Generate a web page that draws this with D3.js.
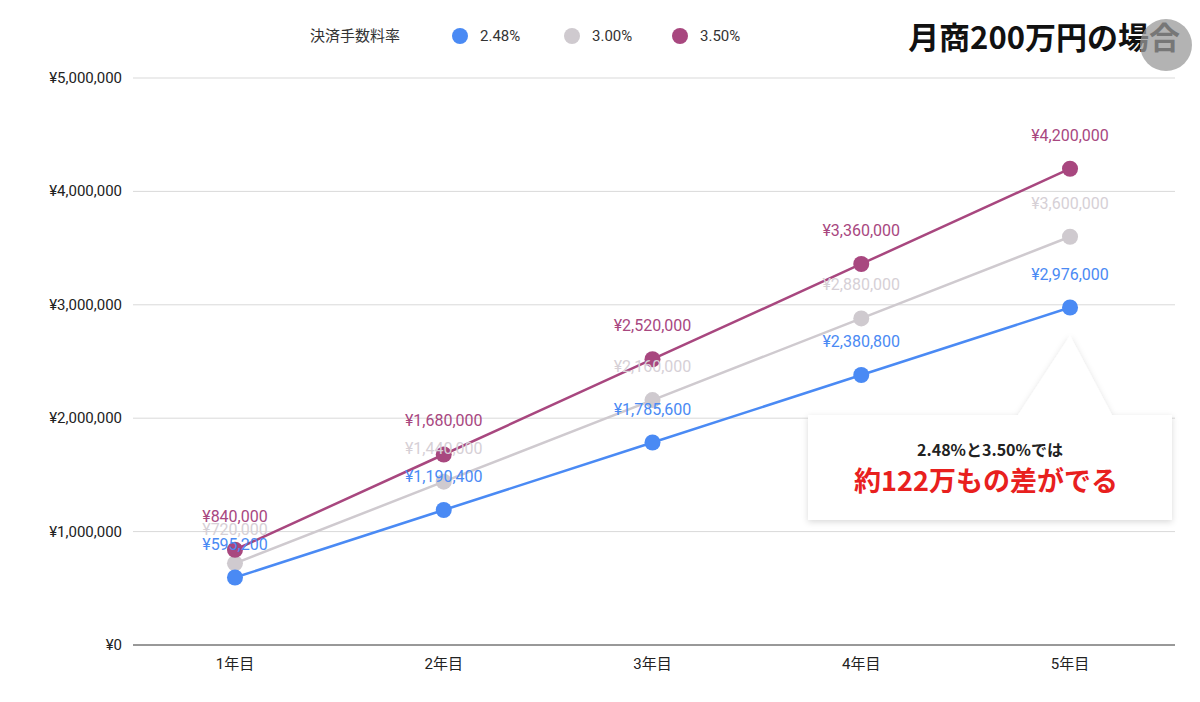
<!DOCTYPE html>
<html><head><meta charset="utf-8">
<script src="https://cdn.jsdelivr.net/npm/d3@7"></script>
<style>body{margin:0;background:#fff;font-family:Roboto,"Noto Sans CJK JP",sans-serif}</style>
</head><body><div id="chart"></div>
<script>
var years = ["1年目", "2年目", "3年目", "4年目", "5年目"];
var rates = ["2.48%", "3.00%", "3.50%"];
var fee248 = [595200, 1190400, 1785600, 2380800, 2976000];
var fee300 = [720000, 1440000, 2160000, 2880000, 3600000];
var fee350 = [840000, 1680000, 2520000, 3360000, 4200000];
var yTicks = [0, 1000000, 2000000, 3000000, 4000000, 5000000];

var colors = ["#4a8af4", "#cfcacf", "#a8477f"];
var labelColors = ["#4a8af4", "#d6d0d6", "#a8477f"];
var series = [fee248, fee300, fee350];

var svg = d3.select("#chart").append("svg").attr("width", 1200).attr("height", 702);

var x = d3.scaleBand().domain(years).range([130.6, 1174.4]);
var y = d3.scaleLinear().domain([0, 5000000]).range([645, 78]);
var yen = function(v){ return "¥" + d3.format(",")(v); };

// grid
svg.selectAll(".grid").data(yTicks).enter().append("line")
  .attr("x1", 133).attr("x2", 1175)
  .attr("y1", d => y(d)).attr("y2", d => y(d))
  .attr("stroke", d => d == 0 ? "#333" : "#d9d9d9").attr("stroke-width", 1);

svg.selectAll(".ytick").data(yTicks).enter().append("text")
  .attr("x", 122).attr("y", d => y(d) + 5)
  .attr("text-anchor", "end").attr("font-size", 15).attr("fill", "#222")
  .text(yen);

svg.selectAll(".xtick").data(years).enter().append("text")
  .attr("x", d => x(d) + x.bandwidth() / 2).attr("y", 669)
  .attr("text-anchor", "middle").attr("font-size", 15).attr("fill", "#222")
  .text(d => d);

var cx = function(i){ return x(years[i]) + x.bandwidth() / 2; };
var line = d3.line().x((d, i) => cx(i)).y(d => y(d));

// draw gray first, then purple, then blue on top
[1, 2, 0].forEach(function(s){
  svg.append("path").attr("d", line(series[s])).attr("fill", "none")
    .attr("stroke", colors[s]).attr("stroke-width", 2.5);
  svg.selectAll(".pt" + s).data(series[s]).enter().append("circle")
    .attr("cx", (d, i) => cx(i)).attr("cy", d => y(d)).attr("r", 8)
    .attr("fill", colors[s]);
});
[1, 2, 0].forEach(function(s){
  svg.selectAll(".lb" + s).data(series[s]).enter().append("text")
    .attr("x", (d, i) => cx(i)).attr("y", d => y(d) - 28)
    .attr("text-anchor", "middle").attr("font-size", 16)
    .attr("fill", labelColors[s]).text(yen);
});

// legend
svg.append("text").attr("x", 310).attr("y", 41).attr("font-size", 15).attr("fill", "#333").text("決済手数料率");
var lx = [460, 572, 680];
rates.forEach(function(r, i){
  svg.append("circle").attr("cx", lx[i]).attr("cy", 36).attr("r", 8).attr("fill", colors[i]);
  svg.append("text").attr("x", lx[i] + 20).attr("y", 41).attr("font-size", 15).attr("fill", "#333").text(r);
});

// title
svg.append("text").attr("x", 1180).attr("y", 49).attr("text-anchor", "end")
  .attr("font-size", 31).attr("font-weight", "bold").attr("fill", "#111")
  .attr("font-family", "'Noto Sans CJK JP'").text("月商200万円の場合");
svg.append("circle").attr("cx", 1166).attr("cy", 45).attr("r", 26).attr("fill", "#9a9a9a").attr("opacity", 0.75);

// callout
var defs = svg.append("defs");
var f = defs.append("filter").attr("id", "sh").attr("x", "-10%").attr("y", "-10%").attr("width", "120%").attr("height", "130%");
f.append("feDropShadow").attr("dx", 0).attr("dy", 2).attr("stdDeviation", 3).attr("flood-color", "#000").attr("flood-opacity", 0.15);
var tipX = cx(4), tipY = y(fee248[4]) + 28;
svg.append("path")
  .attr("d", "M808,415 L1018,415 L" + tipX + "," + tipY + " L1112,415 L1172,415 L1172,520 L808,520 Z")
  .attr("fill", "#fff").attr("filter", "url(#sh)");
svg.append("text").attr("x", 990).attr("y", 456).attr("text-anchor", "middle")
  .attr("font-size", 16).attr("font-weight", "bold").attr("fill", "#222")
  .attr("font-family", "'Noto Sans CJK JP'").text("2.48%と3.50%では");
svg.append("text").attr("x", 986).attr("y", 491).attr("text-anchor", "middle")
  .attr("font-size", 27).attr("font-weight", "bold").attr("fill", "#e8201e")
  .attr("font-family", "'Noto Sans CJK JP'").text("約122万もの差がでる");
</script></body></html>
